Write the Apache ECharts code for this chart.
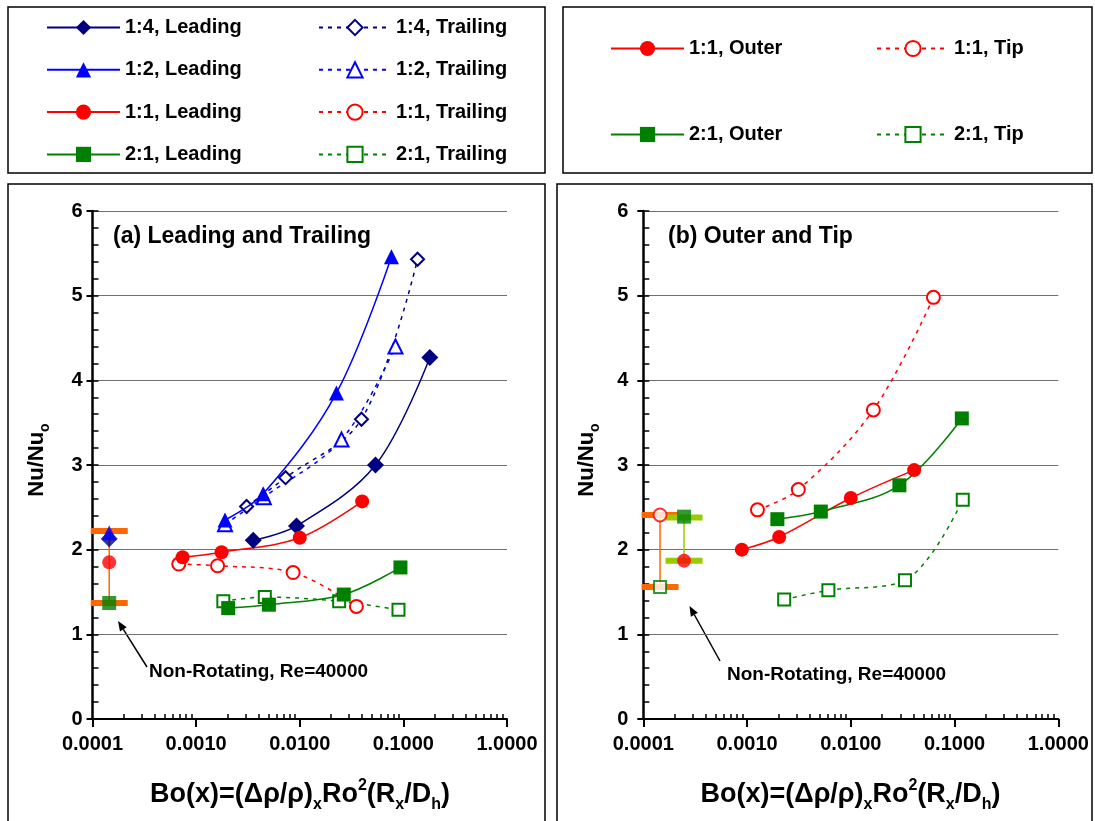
<!DOCTYPE html>
<html>
<head>
<meta charset="utf-8">
<title>Nu/Nuo versus Bo(x)</title>
<script src="https://cdn.jsdelivr.net/npm/echarts@6/dist/echarts.min.js"></script>
<style>
  html, body { margin: 0; padding: 0; background: #fff; }
  #chart { width: 1095px; height: 821px; }
</style>
</head>
<body>
<div id="chart"></div>
<script>
// ---- Data: [Bo(x), Nu/Nuo] ----
// (a) Leading and trailing walls
const ar14Leading  = [[0.00356, 2.11], [0.0093, 2.28], [0.0538, 3.00], [0.180, 4.27]];
const ar14Trailing = [[0.00307, 2.51], [0.0073, 2.85], [0.0394, 3.54], [0.137, 5.43]];
const ar12Leading  = [[0.0019, 2.35], [0.00444, 2.66], [0.0226, 3.85], [0.0767, 5.46]];
const ar12Trailing = [[0.0019, 2.30], [0.0045, 2.62], [0.0253, 3.30], [0.0839, 4.40]];
const ar11Leading  = [[0.00074, 1.91], [0.00176, 1.97], [0.0100, 2.14], [0.040, 2.57]];
const ar11Trailing = [[0.00068, 1.83], [0.00161, 1.81], [0.00863, 1.73], [0.0352, 1.33]];
const ar21Leading  = [[0.00204, 1.31], [0.00504, 1.35], [0.0266, 1.47], [0.0937, 1.79]];
const ar21Trailing = [[0.00183, 1.39], [0.0046, 1.44], [0.024, 1.39], [0.0897, 1.29]];

// (b) Outer and tip walls
const ar11Outer = [[0.00089, 2.00], [0.00204, 2.15], [0.0100, 2.61], [0.0408, 2.94]];
const ar11Tip   = [[0.00126, 2.47], [0.00312, 2.71], [0.0165, 3.65], [0.0626, 4.98]];
const ar21Outer = [[0.00196, 2.36], [0.00514, 2.45], [0.0294, 2.76], [0.1175, 3.55]];
const ar21Tip   = [[0.00228, 1.41], [0.00608, 1.52], [0.0333, 1.64], [0.120, 2.59]];

// Non-rotating reference values (Re = 40000), drawn at a nominal small Bo
const nrBoA = 0.000145;
const nrLeadingA = { ar14: 2.13, ar12: 2.20, ar11: 1.85, ar21: 1.37 };
const nrRangeA = [2.22, 1.37];
const nrBoTip = 0.000145;
const nrBoOuter = 0.000247;
const nrTipB = { ar11: 2.41, ar21: 1.56 };
const nrOuterB = { ar21: 2.39, ar11: 1.87 };
const nrRangeTipB = [2.41, 1.56];
const nrRangeOuterB = [2.38, 1.87];

// Axis tick labels
const xMajorTicks = [0.0001, 0.001, 0.01, 0.1, 1];
const yTickLabels = ['0', '1', '2', '3', '4', '5', '6'];

// ---- Styling ----
const FONT = 'Arial, "Liberation Sans", sans-serif';
const NAVY = '#000080', BLUE = '#0000FF', RED = '#FF0000', GREEN = '#008000';
const ORANGE = '#FF6600', LIME = '#99CC00';
const DASH = [4, 5];

// minor log ticks 2..9 within each decade
const xMinorTicks = [];
for (let e = -4; e < 0; e++) {
  for (let m = 2; m <= 9; m++) xMinorTicks.push(+(m * Math.pow(10, e)).toPrecision(3));
}

function solid(name, data, color, symbol, size, xi, yi) {
  return {
    name, type: 'line', data, xAxisIndex: xi, yAxisIndex: yi,
    smooth: 0.35, symbol, symbolSize: size,
    lineStyle: { color, width: 1.5 }, itemStyle: { color }, z: 4
  };
}
function dashed(name, data, color, symbol, size, xi, yi) {
  return {
    name, type: 'line', data, xAxisIndex: xi, yAxisIndex: yi,
    smooth: 0.35, symbol, symbolSize: size,
    lineStyle: { color, width: 1.5, type: DASH }, itemStyle: { color, borderWidth: 1.5 }, z: 3
  };
}
function point(x, y, color, symbol, size, xi, yi) {
  return {
    type: 'scatter', data: [[x, y]], xAxisIndex: xi, yAxisIndex: yi,
    symbol, symbolSize: size, itemStyle: { color, borderWidth: 1.5 }, z: 5
  };
}
function rangeBar(x, range, color, xi, yi) {
  return {
    type: 'line', data: [[x, range[0]], [x, range[1]]], xAxisIndex: xi, yAxisIndex: yi,
    symbol: 'rect', symbolSize: [37, 6], lineStyle: { color, width: 1.5 },
    itemStyle: { color }, z: 2
  };
}

function xAxes(gridIndex) {
  return [
    {
      type: 'log', logBase: 10, gridIndex, min: 0.0001, max: 1, position: 'bottom',
      axisLine: { show: true, onZero: false, lineStyle: { color: '#000', width: 2 } },
      axisTick: { show: true, customValues: xMajorTicks, length: 8, lineStyle: { color: '#000', width: 2 } },
      axisLabel: {
        customValues: xMajorTicks, margin: 15,
        formatter: v => Number(v).toFixed(4),
        fontFamily: FONT, fontSize: 20, fontWeight: 'bold', color: '#000'
      },
      splitLine: { show: false }
    },
    {
      type: 'log', logBase: 10, gridIndex, min: 0.0001, max: 1, position: 'bottom', offset: 0,
      axisLine: { show: false },
      axisTick: { show: true, inside: true, customValues: xMinorTicks, length: 5, lineStyle: { color: '#000', width: 1.5 } },
      axisLabel: { show: false },
      splitLine: { show: false }
    }
  ];
}
function yAxes(gridIndex, labelMargin) {
  return [
    {
      type: 'value', gridIndex, min: 0, max: 6, interval: 1, position: 'left',
      axisLine: { show: true, onZero: false, lineStyle: { color: '#000', width: 2.5 } },
      axisTick: { show: true, length: 6, lineStyle: { color: '#000', width: 2 } },
      axisLabel: {
        margin: labelMargin, formatter: v => yTickLabels[Math.round(v)],
        fontFamily: FONT, fontSize: 20, fontWeight: 'bold', color: '#000'
      },
      splitLine: { show: true, lineStyle: { color: '#707070', width: 1 } }
    },
    {
      type: 'value', gridIndex, min: 0, max: 6, interval: 0.2, position: 'left', offset: 0,
      axisLine: { show: false },
      axisTick: { show: true, inside: true, length: 6, lineStyle: { color: '#000', width: 1.5 } },
      axisLabel: { show: false },
      splitLine: { show: false }
    }
  ];
}

// ---- Annotations ----
function arrow(x1, y1, x2, y2) {
  const dx = x2 - x1, dy = y2 - y1, L = Math.hypot(dx, dy);
  const ux = dx / L, uy = dy / L, hl = 10, hw = 4;
  const bx = x2 - ux * hl, by = y2 - uy * hl;
  return [
    { type: 'line', shape: { x1, y1, x2: bx, y2: by }, style: { stroke: '#000', lineWidth: 1.5 } },
    { type: 'polygon', shape: { points: [[x2, y2], [bx - uy * hw, by + ux * hw], [bx + uy * hw, by - ux * hw]] }, style: { fill: '#000' } }
  ];
}
function box(x, y, w, h) {
  return { type: 'rect', shape: { x, y, width: w, height: h }, style: { fill: 'none', stroke: '#000', lineWidth: 1.5 } };
}
function label(x, y, text, size) {
  return {
    type: 'text', x, y,
    style: { text, fill: '#000', font: `bold ${size}px ${FONT}`, align: 'left', verticalAlign: 'middle' }
  };
}
function makeRich(main, small) {
  return {
    m: { fontFamily: FONT, fontSize: main, fontWeight: 'bold', color: '#000', lineHeight: main + 8 },
    s: { fontFamily: FONT, fontSize: small, fontWeight: 'bold', color: '#000', lineHeight: small, verticalAlign: 'bottom' },
    p: { fontFamily: FONT, fontSize: small, fontWeight: 'bold', color: '#000', lineHeight: small, verticalAlign: 'top' }
  };
}
const xNameText = '{m|Bo(x)=(Δρ/ρ)}{s|x}{m|Ro}{p|2}{m|(R}{s|x}{m|/D}{s|h}{m|)}';
const yNameText = '{m|Nu/Nu}{s|o}';
function xName(cx, cy) {
  return { type: 'text', x: cx, y: cy, style: { text: xNameText, rich: makeRich(27, 16), align: 'center', verticalAlign: 'middle' } };
}
function yName(cx, cy) {
  return { type: 'text', x: cx, y: cy, rotation: Math.PI / 2, style: { text: yNameText, rich: makeRich(22, 14), align: 'center', verticalAlign: 'middle' } };
}

const legendText = { fontFamily: FONT, fontSize: 20, fontWeight: 'bold', color: '#000', lineHeight: 19 };
function legend(data, left, top, gap, width) {
  return {
    data, left, top, orient: 'vertical', padding: 0, itemGap: gap,
    itemWidth: width, itemHeight: 19, selectedMode: false, textStyle: legendText
  };
}

const chart = echarts.init(document.getElementById('chart'), null, { renderer: 'canvas' });
chart.setOption({
  animation: false,
  backgroundColor: '#fff',
  grid: [
    { left: 92.5, top: 211, width: 414.5, height: 508, containLabel: false },
    { left: 643.3, top: 211, width: 415, height: 508, containLabel: false }
  ],
  xAxis: [...xAxes(0), ...xAxes(1)],
  yAxis: [...yAxes(0, 10), ...yAxes(1, 15)],
  legend: [
    legend(['1:4, Leading', '1:2, Leading', '1:1, Leading', '2:1, Leading'], 46, 17.5, 22.3, 73),
    legend(['1:4, Trailing', '1:2, Trailing', '1:1, Trailing', '2:1, Trailing'], 318, 17.5, 22.3, 72),
    legend(['1:1, Outer', '2:1, Outer'], 610, 38.5, 66, 73),
    legend(['1:1, Tip', '2:1, Tip'], 876, 38.5, 66, 72)
  ],
  series: [
    // (a)
    solid('1:4, Leading', ar14Leading, NAVY, 'diamond', 17, 0, 0),
    dashed('1:4, Trailing', ar14Trailing, NAVY, 'emptyDiamond', 13, 0, 0),
    solid('1:2, Leading', ar12Leading, BLUE, 'triangle', 15, 0, 0),
    dashed('1:2, Trailing', ar12Trailing, BLUE, 'emptyTriangle', 14, 0, 0),
    solid('1:1, Leading', ar11Leading, RED, 'circle', 14, 0, 0),
    dashed('1:1, Trailing', ar11Trailing, RED, 'emptyCircle', 13, 0, 0),
    solid('2:1, Leading', ar21Leading, GREEN, 'rect', 14, 0, 0),
    dashed('2:1, Trailing', ar21Trailing, GREEN, 'emptyRect', 12, 0, 0),
    rangeBar(nrBoA, nrRangeA, ORANGE, 0, 0),
    point(nrBoA, nrLeadingA.ar14, NAVY, 'diamond', 17, 0, 0),
    point(nrBoA, nrLeadingA.ar12, BLUE, 'triangle', 15, 0, 0),
    point(nrBoA, nrLeadingA.ar11, RED, 'circle', 14, 0, 0),
    point(nrBoA, nrLeadingA.ar21, GREEN, 'rect', 14, 0, 0),
    // (b)
    solid('1:1, Outer', ar11Outer, RED, 'circle', 14, 2, 2),
    dashed('1:1, Tip', ar11Tip, RED, 'emptyCircle', 13, 2, 2),
    solid('2:1, Outer', ar21Outer, GREEN, 'rect', 14, 2, 2),
    dashed('2:1, Tip', ar21Tip, GREEN, 'emptyRect', 12, 2, 2),
    rangeBar(nrBoTip, nrRangeTipB, ORANGE, 2, 2),
    rangeBar(nrBoOuter, nrRangeOuterB, LIME, 2, 2),
    point(nrBoTip, nrTipB.ar11, RED, 'emptyCircle', 13, 2, 2),
    point(nrBoTip, nrTipB.ar21, GREEN, 'emptyRect', 12, 2, 2),
    point(nrBoOuter, nrOuterB.ar21, GREEN, 'rect', 14, 2, 2),
    point(nrBoOuter, nrOuterB.ar11, RED, 'circle', 14, 2, 2)
  ],
  graphic: [
    box(8, 7, 537, 166),
    box(563, 7, 529, 166),
    box(8, 184, 537, 642),
    box(557, 184, 535, 642),
    label(113, 237, '(a) Leading and Trailing', 23),
    label(668, 237, '(b) Outer and Tip', 23),
    label(149, 672, 'Non-Rotating, Re=40000', 19),
    label(727, 675, 'Non-Rotating, Re=40000', 19),
    ...arrow(147, 667, 118, 621),
    ...arrow(720, 661, 689.5, 606),
    xName(300, 795),
    xName(850.5, 795),
    yName(37, 460),
    yName(587, 460)
  ]
});
</script>
</body>
</html>
